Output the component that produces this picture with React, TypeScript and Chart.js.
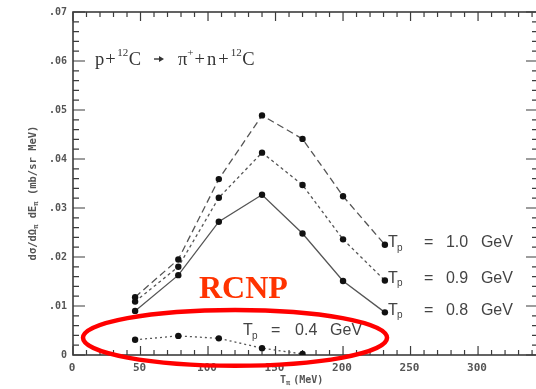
import { useEffect, useRef } from "react";
import { Chart, registerables } from "chart.js";
Chart.register(...registerables);

// Pion kinetic energy (MeV) of the measured points
const energies = [46, 78, 108, 140, 170, 200, 231];
// Cross sections (mb/sr MeV) for each proton beam energy
const tp10 = [0.0118, 0.0195, 0.0359, 0.0489, 0.0441, 0.0324, 0.0225];
const tp09 = [0.0109, 0.018, 0.0321, 0.0413, 0.0347, 0.0236, 0.0152];
const tp08 = [0.009, 0.0163, 0.0272, 0.0327, 0.0248, 0.0151, 0.0087];
const tp04 = [0.0031, 0.0039, 0.0034, 0.0014, 0.0002];
const seriesNames = ["1.0", "0.9", "0.8", "0.4"];
const xTickValues = [0, 50, 100, 150, 200, 250, 300];
const xTickLabels = ["0", "50", "100", "150", "200", "250", "300"];
const yTickValues = [0, 0.01, 0.02, 0.03, 0.04, 0.05, 0.06, 0.07];
const yTickLabels = ["0", ".01", ".02", ".03", ".04", ".05", ".06", ".07"];

const INK = "#444";

function drawTpLabel(
  ctx: CanvasRenderingContext2D,
  x: number,
  y: number,
  val: string,
  off: number[]
) {
  ctx.fillStyle = INK;
  ctx.textBaseline = "middle";
  ctx.textAlign = "left";
  ctx.font = '16px "Liberation Sans"';
  ctx.fillText("T", x, y);
  ctx.font = '10px "Liberation Sans"';
  ctx.fillText("p", x + off[0], y + 5);
  ctx.font = '16px "Liberation Sans"';
  ctx.fillText("=", x + off[1], y);
  ctx.fillText(val, x + off[2], y);
  ctx.fillText("GeV", x + off[3], y);
}

const decorPlugin = {
  id: "decor",
  beforeDatasetsDraw(chart: any) {
    const { ctx, chartArea, scales } = chart;
    const { left, right, top, bottom } = chartArea;
    const xs = scales.x;
    const ys = scales.y;
    ctx.save();
    ctx.strokeStyle = "#3c3c3c";
    ctx.lineWidth = 1.6;
    ctx.strokeRect(left, top, right - left, bottom - top);
    ctx.lineWidth = 1.2;
    ctx.beginPath();
    for (let v = 0; v <= xs.max; v += 10) {
      const px = xs.getPixelForValue(v);
      const len = v % 50 === 0 ? 9 : 5;
      ctx.moveTo(px, bottom);
      ctx.lineTo(px, bottom - len);
      ctx.moveTo(px, top);
      ctx.lineTo(px, top + len);
    }
    for (let i = 0; i <= 35; i++) {
      const py = ys.getPixelForValue(i * 0.002);
      const len = i % 5 === 0 ? 12 : 6;
      ctx.moveTo(left, py);
      ctx.lineTo(left + len, py);
      ctx.moveTo(right, py);
      ctx.lineTo(right - len, py);
    }
    ctx.stroke();

    // tick labels
    ctx.fillStyle = "#555";
    ctx.font = 'bold 10px "DejaVu Sans Mono"';
    ctx.textAlign = "right";
    ctx.textBaseline = "middle";
    yTickValues.forEach((v, i) => {
      ctx.fillText(yTickLabels[i], left - 6, ys.getPixelForValue(v));
    });
    ctx.font = 'bold 11px "DejaVu Sans Mono"';
    ctx.textAlign = "center";
    xTickValues.forEach((v, i) => {
      ctx.fillText(xTickLabels[i], xs.getPixelForValue(v) - 1, bottom + 13);
    });

    // x title
    ctx.font = 'bold 10px "DejaVu Sans Mono"';
    ctx.textAlign = "left";
    let tx = 280;
    const ty = 380;
    ctx.fillText("T", tx, ty);
    tx += ctx.measureText("T").width;
    ctx.font = 'bold 7px "DejaVu Sans Mono"';
    ctx.fillText("π", tx, ty + 3);
    tx += ctx.measureText("π").width + 3;
    ctx.font = 'bold 10px "DejaVu Sans Mono"';
    ctx.fillText("(MeV)", tx, ty);

    // y title
    ctx.save();
    ctx.translate(33, 193);
    ctx.rotate(-Math.PI / 2);
    const parts: [string, boolean][] = [
      ["dσ/dΩ", false],
      ["π", true],
      [" dE", false],
      ["π", true],
      [" (mb/sr MeV)", false],
    ];
    const big = 'bold 10.5px "DejaVu Sans Mono"';
    const small = 'bold 7px "DejaVu Sans Mono"';
    let total = 0;
    parts.forEach(([t, sub]) => {
      ctx.font = sub ? small : big;
      total += ctx.measureText(t).width;
    });
    let px = -total / 2;
    ctx.textAlign = "left";
    parts.forEach(([t, sub]) => {
      ctx.font = sub ? small : big;
      ctx.fillText(t, px, sub ? 3 : 0);
      px += ctx.measureText(t).width;
    });
    ctx.restore();
    ctx.restore();
  },
  afterDraw(chart: any) {
    const { ctx, scales } = chart;
    const xs = scales.x;
    const ys = scales.y;
    ctx.save();

    // reaction formula, drawn piece by piece
    ctx.fillStyle = "#333";
    ctx.strokeStyle = "#333";
    ctx.textBaseline = "alphabetic";
    ctx.textAlign = "left";
    const fBig = '18.5px "Liberation Serif"';
    const fSup = '11px "Liberation Serif"';
    // [text, superscript, gap after]
    const pieces: [string, boolean, number][] = [
      ["p", false, 1],
      ["+", false, 1.5],
      ["12", true, 0.5],
      ["C", false, 13],
      ["→", false, 14],
      ["π", false, 0],
      ["+", true, 1],
      ["+", false, 2],
      ["n", false, 2],
      ["+", false, 2],
      ["12", true, 0.5],
      ["C", false, 0],
    ];
    let fx = 95;
    const base = 65;
    pieces.forEach(([t, sup, gap]) => {
      if (t === "→") {
        ctx.lineWidth = 1.4;
        ctx.beginPath();
        ctx.moveTo(fx, base - 6);
        ctx.lineTo(fx + 8, base - 6);
        ctx.stroke();
        ctx.beginPath();
        ctx.moveTo(fx + 10, base - 6);
        ctx.lineTo(fx + 5, base - 9);
        ctx.lineTo(fx + 5, base - 3);
        ctx.closePath();
        ctx.fill();
        fx += 10 + gap;
        return;
      }
      ctx.font = sup ? fSup : fBig;
      ctx.fillText(t, fx, sup ? base - 9 : base);
      fx += ctx.measureText(t).width + gap;
    });

    // series labels next to last points
    const lastIdx = energies.length - 1;
    [tp10, tp09, tp08].forEach((arr, k) => {
      const px = xs.getPixelForValue(energies[lastIdx]);
      const py = ys.getPixelForValue(arr[lastIdx]);
      drawTpLabel(ctx, px + 3, py - 2, seriesNames[k], [9, 36, 58, 93]);
    });
    drawTpLabel(
      ctx,
      xs.getPixelForValue(126),
      ys.getPixelForValue(0.0049),
      seriesNames[3],
      [9, 28, 52, 87]
    );

    // RCNP
    ctx.fillStyle = "#ff3300";
    ctx.font = 'bold 32px "Liberation Serif"';
    ctx.textBaseline = "alphabetic";
    ctx.fillText("RCNP", 199, 298);

    // red ellipse
    const cx = xs.getPixelForValue(120);
    const cy = ys.getPixelForValue(0.0035);
    const rx = xs.getPixelForValue(120 + 112.6) - cx;
    const ry = cy - ys.getPixelForValue(0.0035 + 0.0057);
    ctx.strokeStyle = "#ff0000";
    ctx.lineWidth = 4.5;
    ctx.beginPath();
    ctx.ellipse(cx, cy, rx, ry, 0, 0, Math.PI * 2);
    ctx.stroke();
    ctx.restore();
  },
};

export default function App() {
  const ref = useRef<HTMLCanvasElement>(null);
  useEffect(() => {
    document.body.style.margin = "0";
    document.body.style.overflow = "hidden";
    const canvas = ref.current!;
    const mk = (arr: number[]) => arr.map((y, i) => ({ x: energies[i], y }));
    const base = {
      borderColor: "#555",
      borderWidth: 1.3,
      pointRadius: 3.2,
      pointBackgroundColor: "#111",
      pointBorderWidth: 0,
      fill: false,
      tension: 0,
    };
    const chart = new Chart(canvas, {
      type: "line",
      data: {
        datasets: [
          { ...base, label: seriesNames[0], data: mk(tp10), borderDash: [7, 4] },
          { ...base, label: seriesNames[1], data: mk(tp09), borderDash: [3, 3] },
          { ...base, label: seriesNames[2], data: mk(tp08), borderDash: [] },
          { ...base, label: seriesNames[3], data: mk(tp04), borderDash: [2, 3] },
        ],
      },
      options: {
        animation: false,
        responsive: false,
        devicePixelRatio: 1,
        layout: { padding: { left: 73, top: 12, right: 10, bottom: 34 } },
        scales: {
          x: { type: "linear", min: 0, max: 344.4, display: false },
          y: { type: "linear", min: 0, max: 0.07, display: false },
        },
        plugins: { legend: { display: false }, tooltip: { enabled: false } },
      },
      plugins: [decorPlugin],
    });
    return () => chart.destroy();
  }, []);
  return (
    <div
      style={{
        position: "fixed",
        left: 0,
        top: 0,
        width: 536,
        height: 389,
        overflow: "hidden",
        background: "#fff",
      }}
    >
      <canvas ref={ref} width={548} height={389} style={{ display: "block" }} />
    </div>
  );
}
